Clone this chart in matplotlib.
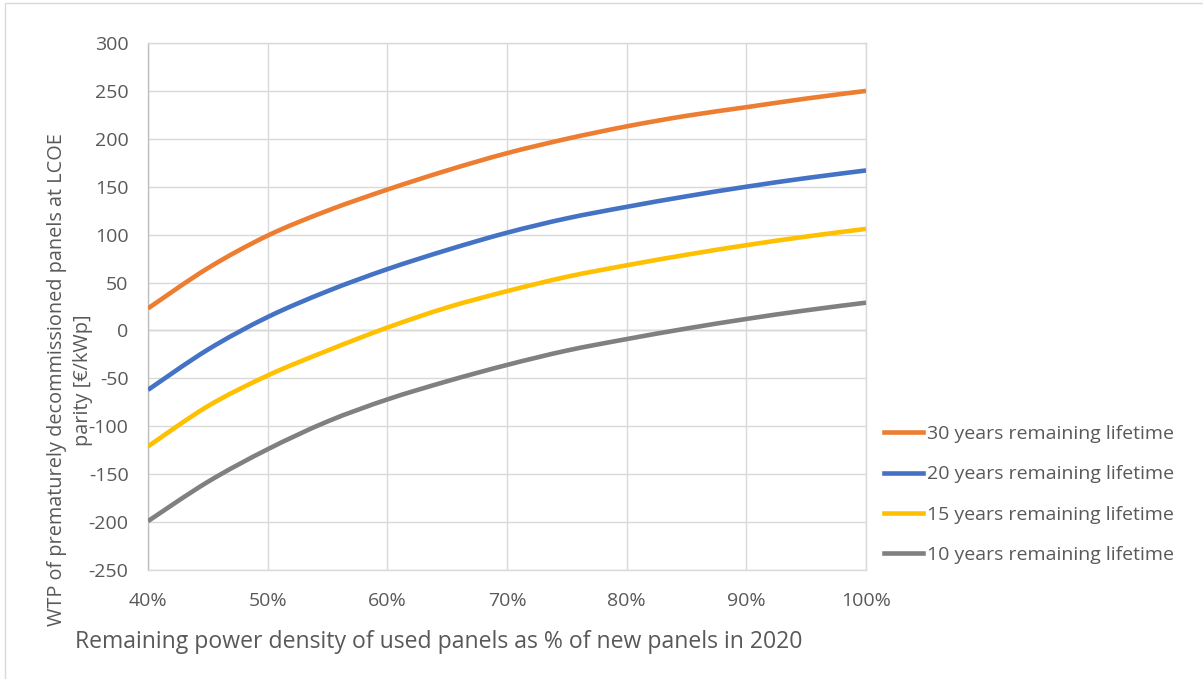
import matplotlib
matplotlib.use("Agg")
import matplotlib.pyplot as plt
from matplotlib.patches import Rectangle, PathPatch
from matplotlib.path import Path
from matplotlib.lines import Line2D
from matplotlib.ticker import FuncFormatter, MultipleLocator

plt.rcParams["font.family"] = ["Open Sans", "DejaVu Sans"]
plt.rcParams["axes.unicode_minus"] = False

# Remaining power density (% of new panels in 2020)
density_pct = [40, 45, 50, 55, 60, 65, 70, 75, 80, 85, 90, 95, 100]

# WTP at LCOE parity [EUR/kWp] per remaining lifetime
wtp_30y = [23, 65, 99, 125, 147, 167, 185, 200, 213, 224, 233, 242, 250]
wtp_20y = [-62, -20, 14, 41, 64, 84, 102, 117, 129, 140, 150, 159, 167]
wtp_15y = [-121, -79, -47, -21, 3, 24, 41, 56, 68, 79, 89, 98, 106]
wtp_10y = [-199, -158, -124, -95, -72, -53, -36, -21, -9, 2, 12, 21, 29]

series_labels = [
    "30 years remaining lifetime",
    "20 years remaining lifetime",
    "15 years remaining lifetime",
    "10 years remaining lifetime",
]
series_colors = ["#ED7D31", "#4472C4", "#FFC000", "#808080"]


def smooth_path(xs, ys, tension=1 / 6):
    """Smoothed line through the data points (cubic Bezier segments)."""
    pts = list(zip(xs, ys))
    verts = [pts[0]]
    codes = [Path.MOVETO]
    n = len(pts)
    for i in range(n - 1):
        p0 = pts[i - 1] if i > 0 else pts[i]
        p1 = pts[i]
        p2 = pts[i + 1]
        p3 = pts[i + 2] if i + 2 < n else pts[i + 1]
        c1 = (p1[0] + (p2[0] - p0[0]) * tension, p1[1] + (p2[1] - p0[1]) * tension)
        c2 = (p2[0] - (p3[0] - p1[0]) * tension, p2[1] - (p3[1] - p1[1]) * tension)
        verts += [c1, c2, p2]
        codes += [Path.CURVE4] * 3
    return Path(verts, codes)


W, H = 1203, 679
fig = plt.figure(figsize=(W / 100, H / 100), dpi=100)
ax = fig.add_axes([148 / W, 1 - 570 / H, (866 - 148) / W, (570 - 43) / H])

handles = []
for vals, lab, col in zip([wtp_30y, wtp_20y, wtp_15y, wtp_10y], series_labels, series_colors):
    patch = PathPatch(smooth_path(density_pct, vals), facecolor="none",
                      edgecolor=col, lw=3.3, capstyle="butt", zorder=3)
    ax.add_patch(patch)
    handles.append(Line2D([], [], color=col, lw=3.3, label=lab))

ax.set_xlim(40, 100)
ax.set_ylim(-250, 300)
ax.xaxis.set_major_locator(MultipleLocator(10))
ax.yaxis.set_major_locator(MultipleLocator(50))
ax.xaxis.set_major_formatter(FuncFormatter(lambda v, p: f"{v:.0f}%"))

grid_col = "#D9D9D9"
ax.grid(True, color=grid_col, lw=1.0, zorder=0)
ax.axhline(0, color="#BFBFBF", lw=1.0, zorder=1)
for side in ["top", "right", "bottom"]:
    ax.spines[side].set_color(grid_col)
    ax.spines[side].set_linewidth(1.0)
ax.spines["left"].set_color("#BFBFBF")
ax.spines["left"].set_linewidth(1.0)

tick_col = "#595959"
ax.tick_params(axis="x", length=0, pad=16, labelsize=14, labelcolor=tick_col)
ax.tick_params(axis="y", length=0, pad=14, labelsize=14, labelcolor=tick_col)

fig.text(439 / W, 1 - 642 / H,
         "Remaining power density of used panels as % of new panels in 2020",
         ha="center", va="center", fontsize=16.6, color=tick_col)
fig.text(70 / W, 1 - 380 / H,
         "WTP of prematurely decommissioned panels at LCOE\nparity [€/kWp]",
         ha="center", va="center", rotation=90, multialignment="center",
         fontsize=14.3, color=tick_col, linespacing=1.35)

leg = ax.legend(handles=handles, loc="upper left",
                bbox_to_anchor=(884 / W, 1 - 425 / H),
                bbox_transform=fig.transFigure, frameon=False, fontsize=14,
                handlelength=2.0, handletextpad=0.2, labelspacing=1.15,
                borderpad=0, borderaxespad=0)
for t in leg.get_texts():
    t.set_color(tick_col)

fig.patches.append(Rectangle((5 / W, -0.01), 1.02, 1 - 3 / H + 0.01,
                             transform=fig.transFigure, fill=False,
                             edgecolor="#D9D9D9", lw=1.0))

fig.savefig("out.png", dpi=100, facecolor="white")
